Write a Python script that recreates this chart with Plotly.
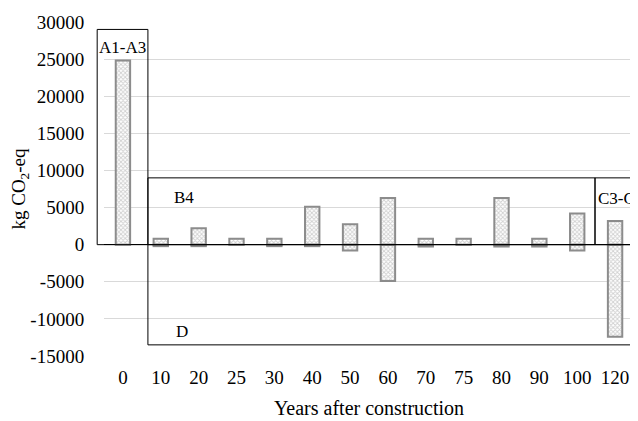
import plotly.graph_objects as go

categories = ["0", "10", "20", "25", "30", "40", "50", "60", "70", "75", "80", "90", "100", "120"]
positive = [24800, 800, 2200, 800, 800, 5100, 2750, 6300, 800, 800, 6300, 800, 4200, 3200]
negative = [None, -200, -200, None, -200, -200, -800, -4900, -250, None, -250, -250, -800, -12400]
y_ticks = [-15000, -10000, -5000, 0, 5000, 10000, 15000, 20000, 25000, 30000]
y_tick_labels = [str(v) for v in y_ticks]

x_idx = list(range(len(categories)))
YMIN, YMAX = -15000, 30000
XMIN, XMAX = -0.5, len(categories) - 0.5

def px(x):
    return (x - XMIN) / (XMAX - XMIN)

def py(y):
    return (y - YMIN) / (YMAX - YMIN)

FONT = "Liberation Serif"
pattern = dict(shape="x", size=3, solidity=0.5, fgcolor="#a0a0a0", bgcolor="white")
bar_style = dict(color="white", line=dict(color="#8c8c8c", width=2), pattern=pattern)

fig = go.Figure()
fig.add_trace(go.Bar(x=x_idx, y=positive, width=0.38, marker=bar_style, showlegend=False))
fig.add_trace(go.Bar(x=x_idx, y=negative, width=0.38, marker=bar_style, showlegend=False))

# stage boxes (x in category units, y in data units) -> paper coords
boxes = [
    (-0.68, 0.66, 0, 29000),
    (0.66, 12.47, 0, 9000),
    (12.47, 13.75, 0, 9000),
    (0.66, 13.75, -13500, 0),
]
for x0, x1, y0, y1 in boxes:
    fig.add_shape(type="rect", xref="paper", yref="paper",
                  x0=px(x0), x1=px(x1), y0=py(y0), y1=py(y1),
                  line=dict(color="black", width=1), fillcolor="rgba(0,0,0,0)", layer="above")

labels = [
    ("A1-A3", 0.0, 26500, "center"),
    ("B4", 1.6, 6400, "center"),
    ("C3-C4", 12.5, 6250, "left"),
    ("D", 1.57, -11700, "center"),
]
for text, x, y, anchor in labels:
    fig.add_annotation(text=text, xref="paper", yref="paper", x=px(x), y=py(y),
                       xanchor=anchor, yanchor="middle", showarrow=False,
                       font=dict(family=FONT, size=17, color="black"))

tick_font = dict(family=FONT, size=19, color="black")

# page body has an 8px margin, so the figure is offset by 8px
fig.update_layout(
    width=630, height=413,
    margin=dict(l=96, r=4, t=10, b=65),
    paper_bgcolor="white", plot_bgcolor="white",
    barmode="relative",
    font=dict(family=FONT, size=19, color="black"),
    xaxis=dict(range=[XMIN, XMAX], tickvals=x_idx, ticktext=categories, tickfont=tick_font,
               showgrid=False, zeroline=False, showline=False,
               ticks="outside", ticklen=4, tickcolor="rgba(0,0,0,0)",
               title=dict(text="Years after construction",
                          font=dict(family=FONT, size=20, color="black"), standoff=14)),
    yaxis=dict(range=[YMIN, YMAX], tickvals=y_ticks, ticktext=y_tick_labels, tickfont=tick_font,
               ticklabeloverflow="allow",
               showgrid=True, gridcolor="#d9d9d9",
               gridwidth=1, zeroline=True, zerolinecolor="black", zerolinewidth=1,
               showline=False, ticks="outside", ticklen=15, tickcolor="rgba(0,0,0,0)",
               title=dict(text="kg CO<sub>2</sub>-eq",
                          font=dict(family=FONT, size=19, color="black"), standoff=0)),
)

fig.write_html("out.html")
